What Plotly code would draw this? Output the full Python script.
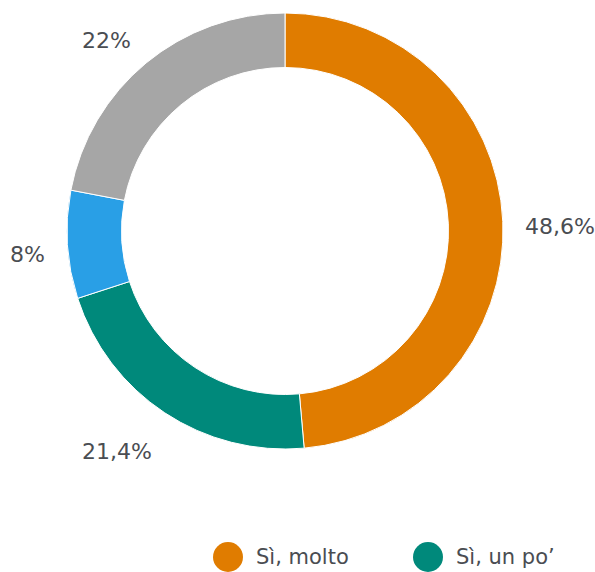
import math
import plotly.graph_objects as go

labels = ["Sì, molto", "Sì, un po’", "No", "Non so"]
values = [48.6, 21.4, 8, 22]
colors = ["#E07C00", "#00897B", "#299FE6", "#A6A6A6"]
legend_labels = ["Sì, molto", "Sì, un po’"]

W, H = 595, 572
FONT = "DejaVu Sans"
TXT = "#4a4d52"

# pie geometry in page pixels
CX, CY, R = 285, 231, 218
LABEL_RX, LABEL_RY, LABEL_DY = 238, 256, 7

def fmt(v):
    return ("%g" % v).replace(".", ",") + "%"

fig = go.Figure()
fig.add_trace(go.Pie(
    labels=labels, values=values, sort=False, direction="clockwise", rotation=0,
    hole=0.75,
    marker=dict(colors=colors, line=dict(color="white", width=1)),
    textinfo="none",
    showlegend=False, hoverinfo="label+percent",
    domain=dict(x=[(CX-R)/W, (CX+R)/W], y=[1-(CY+R)/H, 1-(CY-R)/H]),
))

annotations = []
total = sum(values)
cum = 0.0
for v in values:
    mid = (cum + v/2) / total * 2 * math.pi
    cum += v
    s = math.sin(mid)
    px = CX + LABEL_RX * s
    py = CY - LABEL_RY * math.cos(mid) + LABEL_DY
    annotations.append(dict(xref="paper", yref="paper", x=px/W, y=1-py/H,
                            text=fmt(v), showarrow=False,
                            xanchor="left" if s >= 0 else "right", yanchor="middle",
                            font=dict(family=FONT, size=22, color=TXT)))

# custom legend (first two entries visible as in reference)
shapes = []
xs = [228, 428]
yc = 557
for i, lab in enumerate(legend_labels):
    cx = xs[i]
    shapes.append(dict(type="circle", xref="paper", yref="paper",
                       x0=(cx-15)/W, x1=(cx+15)/W, y0=1-(yc+15)/H, y1=1-(yc-15)/H,
                       fillcolor=colors[labels.index(lab)], line=dict(width=0)))
    annotations.append(dict(xref="paper", yref="paper", x=(cx+26)/W, y=1-yc/H,
                            text=lab, showarrow=False, xanchor="left", yanchor="middle",
                            font=dict(family=FONT, size=21, color=TXT)))

fig.update_layout(
    width=W, height=H, margin=dict(l=0, r=0, t=0, b=0),
    paper_bgcolor="white", plot_bgcolor="white",
    shapes=shapes, annotations=annotations,
    font=dict(family=FONT, color=TXT),
)
fig.write_html("out.html", config={"displayModeBar": False},
               post_script="document.body.style.margin='0';")
